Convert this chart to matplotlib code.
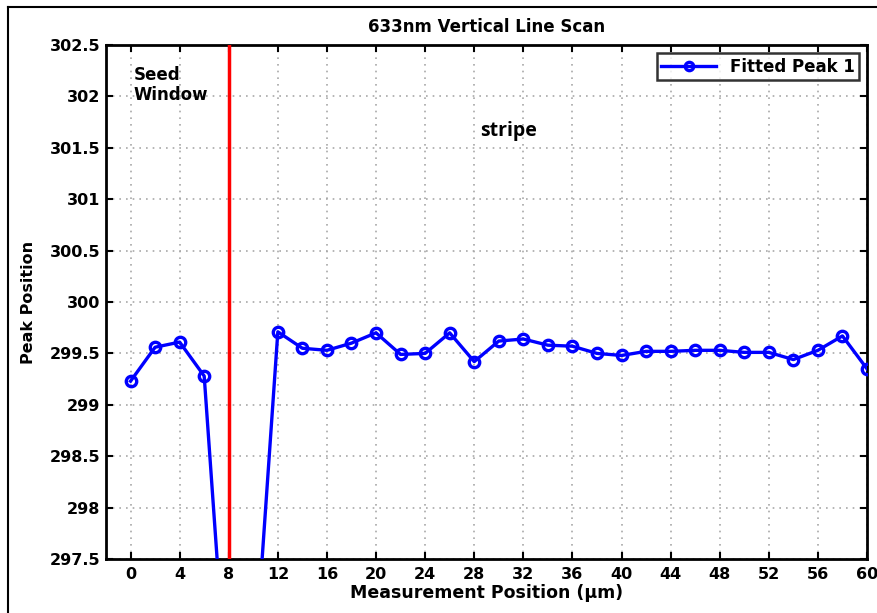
import matplotlib
matplotlib.use("Agg")
import matplotlib.pyplot as plt
from matplotlib.lines import Line2D

plt.rcParams['font.family'] = ['DejaVu Sans']

positions = [0, 2, 4, 6, 8, 10, 12, 14, 16, 18, 20, 22, 24, 26, 28, 30,
             32, 34, 36, 38, 40, 42, 44, 46, 48, 50, 52, 54, 56, 58, 60]
peak = [299.23, 299.56, 299.61, 299.28, 295.9, 296.26, 299.71, 299.55, 299.53,
        299.60, 299.70, 299.49, 299.50, 299.70, 299.42, 299.62, 299.64, 299.58,
        299.57, 299.50, 299.48, 299.52, 299.52, 299.53, 299.53, 299.51, 299.51,
        299.44, 299.53, 299.67, 299.35]
xticks = list(range(0, 61, 4))
yticks = [297.5, 298, 298.5, 299, 299.5, 300, 300.5, 301, 301.5, 302, 302.5]
ytick_labels = ['297.5', '298', '298.5', '299', '299.5', '300', '300.5',
                '301', '301.5', '302', '302.5']
seed_boundary = 8

fig = plt.figure(figsize=(8.78, 6.13), dpi=100)
ax = fig.add_axes([106/878, 1-559/613, (867-106)/878, (559-45)/613])

ax.plot(positions, peak, color='#0000ff', lw=2.4, marker='o', ms=7.5,
        mfc='none', mec='#0000ff', mew=2.4, label='Fitted Peak 1', zorder=3)
ax.axvline(seed_boundary, color='#ff0000', lw=2.5, zorder=4)

ax.set_xlim(-2, 60)
ax.set_ylim(297.5, 302.5)
ax.set_xticks(xticks)
ax.set_yticks(yticks)
ax.set_yticklabels(ytick_labels)
ax.grid(True, linestyle=(0, (1, 3)), color='#a8a8a8', lw=1.2)
ax.tick_params(direction='in', top=True, right=True, length=5, width=1.5,
               labelsize=11.5)
ax.tick_params(axis='x', pad=6)
ax.tick_params(axis='y', pad=4)
for lab in ax.get_xticklabels() + ax.get_yticklabels():
    lab.set_fontweight('bold')
for s in ax.spines.values():
    s.set_linewidth(2)

ax.set_title('633nm Vertical Line Scan', fontsize=12, fontweight='bold', pad=9)
ax.set_xlabel('Measurement Position (\u03bcm)', fontsize=12.5, fontweight='bold', labelpad=1)
ax.set_ylabel('Peak Position', fontsize=11.5, fontweight='bold', labelpad=10)

ax.text(0.25, 302.3, 'Seed\nWindow', fontsize=12, fontweight='bold',
        va='top', ha='left', linespacing=1.2)
ax.text(30.8, 301.66, 'stripe', fontsize=14, fontweight='bold',
        family=['Open Sans', 'DejaVu Sans'], ha='center', va='center')

leg = ax.legend(loc='upper right', fontsize=12, frameon=True, fancybox=False,
                edgecolor='black', borderpad=0.25, handlelength=3.3,
                borderaxespad=0.5, markerscale=0.8)
leg.get_frame().set_linewidth(1.8)
for t in leg.get_texts():
    t.set_fontweight('bold')

fig.add_artist(Line2D([8/878, 8/878], [0, 1-7/613], color='black', lw=1.5,
                      transform=fig.transFigure))
fig.add_artist(Line2D([8/878, 1], [1-7/613, 1-7/613], color='black', lw=1.5,
                      transform=fig.transFigure))

fig.savefig('out.png', dpi=100)
